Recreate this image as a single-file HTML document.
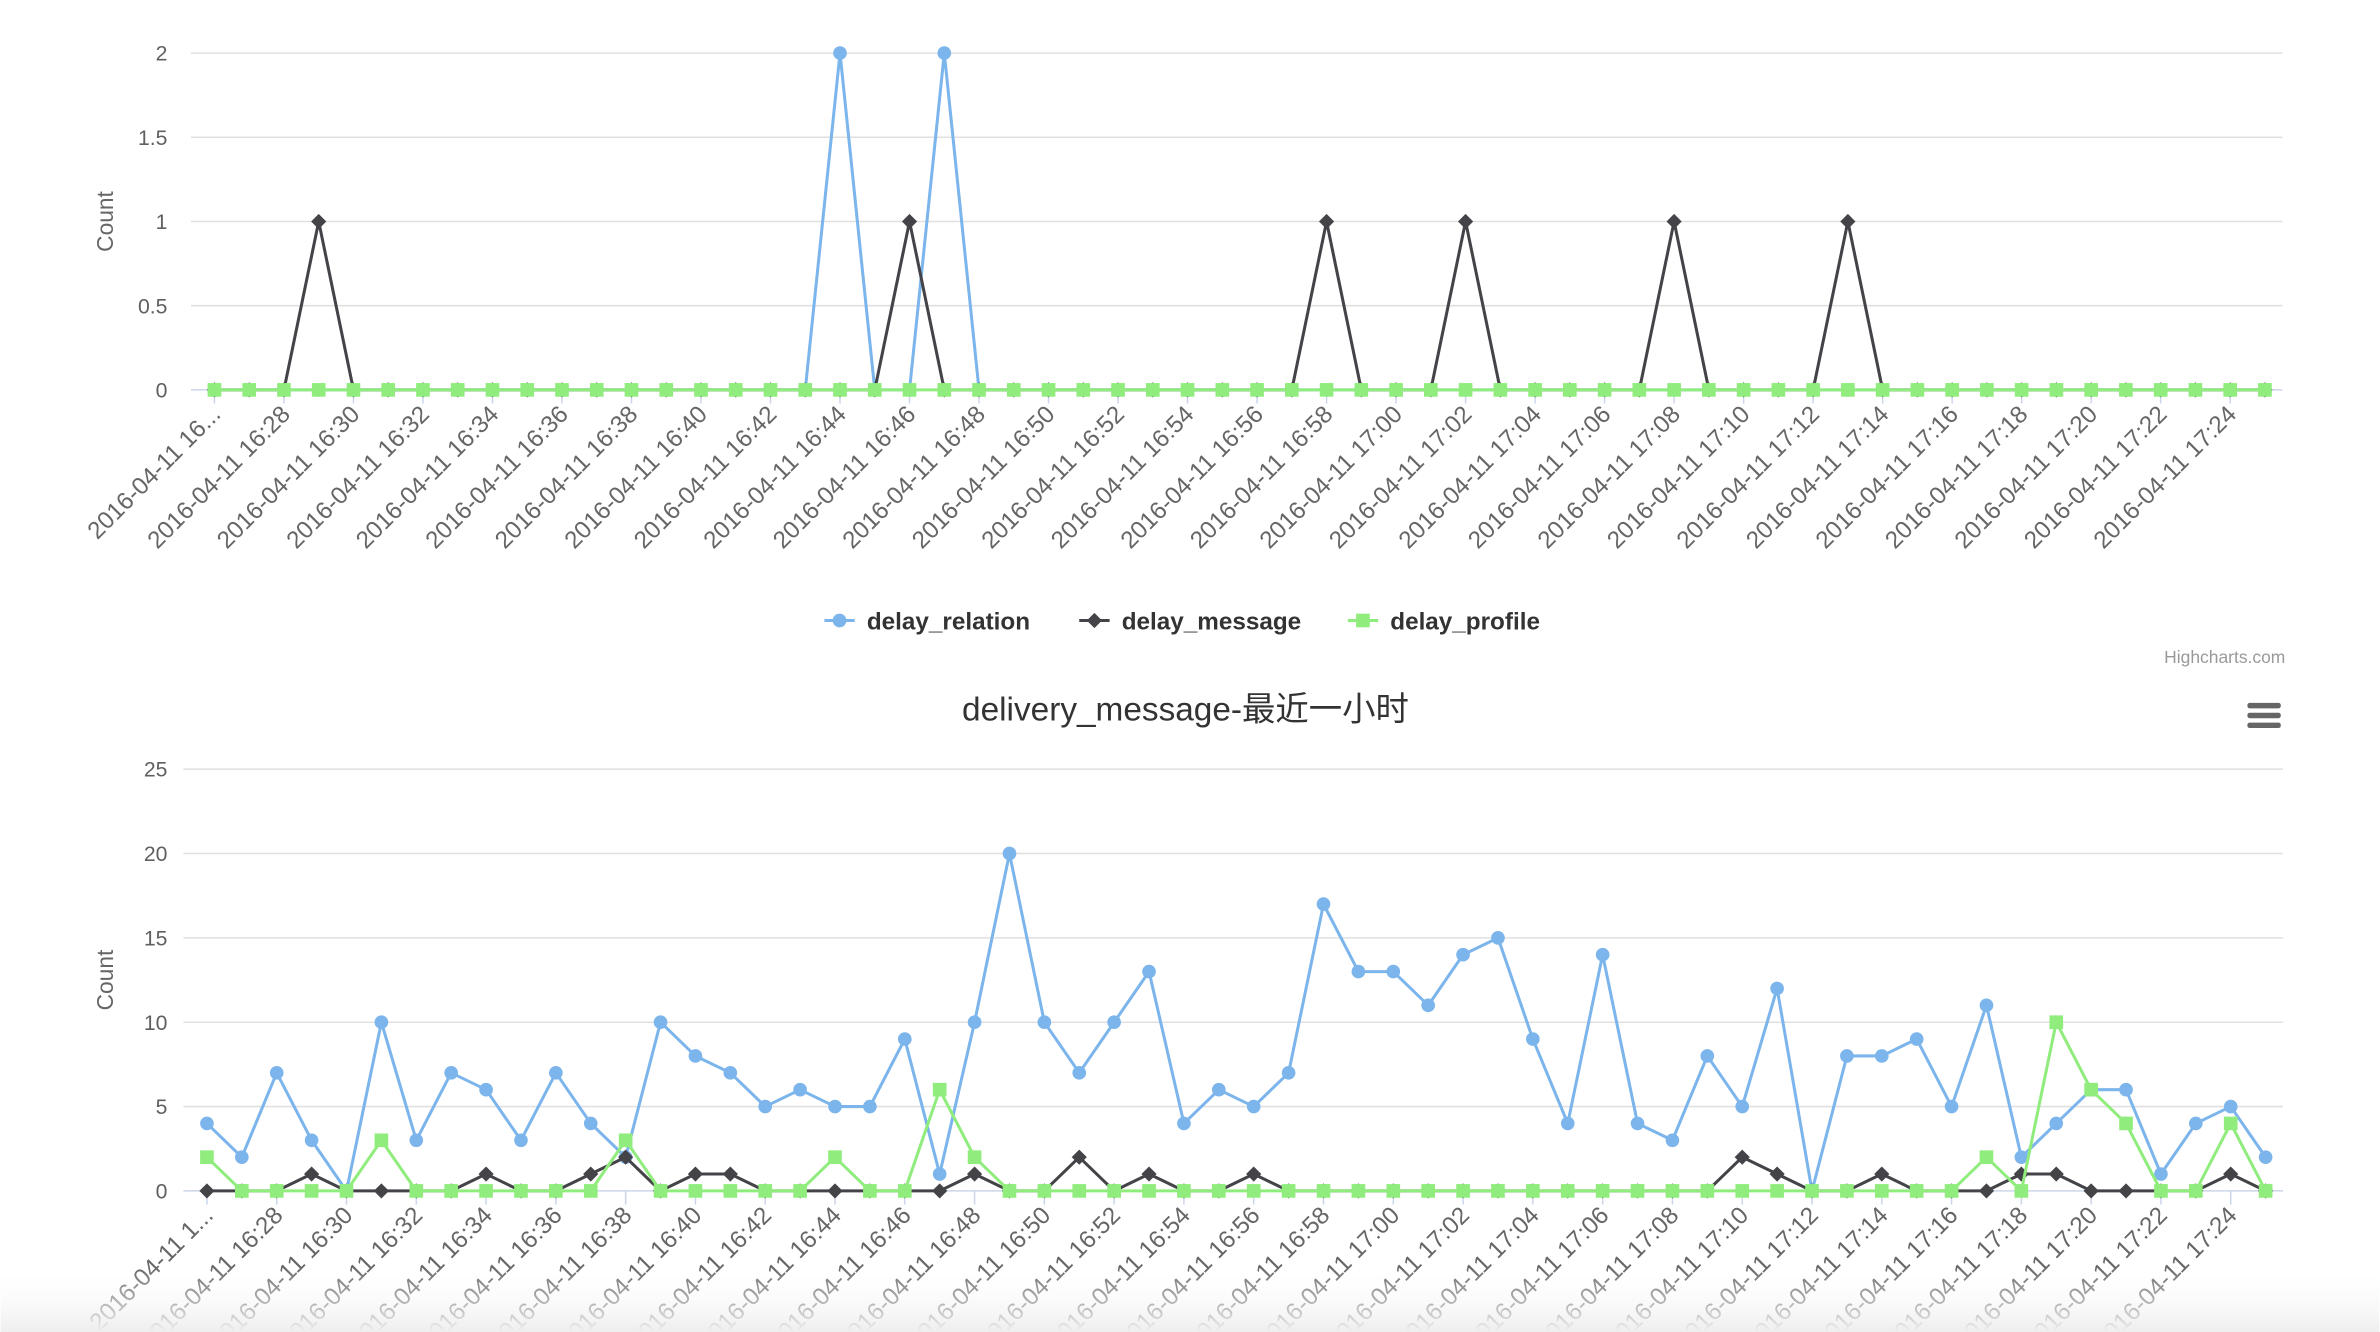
<!DOCTYPE html>
<html><head><meta charset="utf-8"><style>
html,body{margin:0;padding:0;background:#fff;overflow:hidden}
svg{display:block}
text{font-family:"Liberation Sans","Noto Sans CJK SC",sans-serif}
</style></head><body>
<svg id="c" width="2380" height="1332" viewBox="0 0 1568 878" xmlns="http://www.w3.org/2000/svg">
<defs><linearGradient id="fade" x1="0" y1="0" x2="0" y2="1"><stop offset="0" stop-color="#fff" stop-opacity="0"/><stop offset="1" stop-color="#eee" stop-opacity="1"/></linearGradient></defs>
</svg>
<script>
const categories=["16:26","16:27","16:28","16:29","16:30","16:31","16:32","16:33","16:34","16:35","16:36","16:37","16:38","16:39","16:40","16:41","16:42","16:43","16:44","16:45","16:46","16:47","16:48","16:49","16:50","16:51","16:52","16:53","16:54","16:55","16:56","16:57","16:58","16:59","17:00","17:01","17:02","17:03","17:04","17:05","17:06","17:07","17:08","17:09","17:10","17:11","17:12","17:13","17:14","17:15","17:16","17:17","17:18","17:19","17:20","17:21","17:22","17:23","17:24","17:25"];
const topRelation=[0,0,0,0,0,0,0,0,0,0,0,0,0,0,0,0,0,0,2,0,0,2,0,0,0,0,0,0,0,0,0,0,0,0,0,0,0,0,0,0,0,0,0,0,0,0,0,0,0,0,0,0,0,0,0,0,0,0,0,0];
const topMessage=[0,0,0,1,0,0,0,0,0,0,0,0,0,0,0,0,0,0,0,0,1,0,0,0,0,0,0,0,0,0,0,0,1,0,0,0,1,0,0,0,0,0,1,0,0,0,0,1,0,0,0,0,0,0,0,0,0,0,0,0];
const topProfile=[0,0,0,0,0,0,0,0,0,0,0,0,0,0,0,0,0,0,0,0,0,0,0,0,0,0,0,0,0,0,0,0,0,0,0,0,0,0,0,0,0,0,0,0,0,0,0,0,0,0,0,0,0,0,0,0,0,0,0,0];
const topTicks=[0,0.5,1,1.5,2];
const botRelation=[4,2,7,3,0,10,3,7,6,3,7,4,2,10,8,7,5,6,5,5,9,1,10,20,10,7,10,13,4,6,5,7,17,13,13,11,14,15,9,4,14,4,3,8,5,12,0,8,8,9,5,11,2,4,6,6,1,4,5,2];
const botMessage=[0,0,0,1,0,0,0,0,1,0,0,1,2,0,1,1,0,0,0,0,0,0,1,0,0,2,0,1,0,0,1,0,0,0,0,0,0,0,0,0,0,0,0,0,2,1,0,0,1,0,0,0,1,1,0,0,0,0,1,0];
const botProfileData=[2,0,0,0,0,3,0,0,0,0,0,0,3,0,0,0,0,0,2,0,0,6,2,0,0,0,0,0,0,0,0,0,0,0,0,0,0,0,0,0,0,0,0,0,0,0,0,0,0,0,0,2,0,10,6,4,0,0,4,0];
const botTicks=[0,5,10,15,20,25];
</script>
<script>
const NS="http://www.w3.org/2000/svg";
const svg=document.getElementById('c');
function el(t,a,p){const e=document.createElementNS(NS,t);for(const k in a)e.setAttribute(k,a[k]);(p||svg).appendChild(e);return e;}
const COL={rel:"#7cb5ec",msg:"#434348",pro:"#90ed7d"};
function marker(g,type,x,y,c){
  if(type==='rel')return el('circle',{cx:x,cy:y,r:4.5,fill:c},g);
  if(type==='msg')return el('path',{d:`M${x} ${y-5}L${x+5} ${y}L${x} ${y+5}L${x-5} ${y}Z`,fill:c},g);
  return el('rect',{x:x-4.5,y:y-4.5,width:9,height:9,fill:c},g);
}
function chart(name,left,right,top,bottom,maxV,ticks,series,firstLabel){
  const g=el('g',{});
  
  
  const n=categories.length,w=(right-left)/n;
  const X=i=>left+(i+0.5)*w;
  const Y=v=>bottom-(v/maxV)*(bottom-top);
  ticks.forEach(t=>{
    const l=el('line',{x1:left-4,x2:right,y1:Y(t),y2:Y(t),stroke:t===0?"#ccd6eb":"#e0e0e0","stroke-width":1},g);
    
    
    const tx=el('text',{x:110,y:Y(t)+5,"text-anchor":"end","font-size":14,fill:"#606060"},g);
    tx.textContent=String(t);
    
    
  });
  const yt=el('text',{x:0,y:0,transform:`translate(74 ${(top+bottom)/2}) rotate(-90)`,"text-anchor":"middle","font-size":15,fill:"#666"},g);
  yt.textContent="Count";
  
  
  for(let i=0;i<n;i+=2){
    el('line',{x1:X(i),x2:X(i),y1:bottom,y2:bottom+9,stroke:"#ccd6eb"},g);
    const lb=el('text',{x:0,y:0,transform:`translate(${X(i)+5} ${bottom+17}) rotate(-45)`,"text-anchor":"end","font-size":16,fill:"#666"},g);
    lb.textContent=i===0?firstLabel:"2016-04-11 "+categories[i];
    
    
  }
  series.forEach(s=>{
    const sg=el('g',{},g);
    
    
    el('polyline',{points:s.data.map((v,i)=>X(i)+","+Y(v)).join(" "),fill:"none",stroke:COL[s.key],"stroke-width":2,"stroke-linejoin":"round"},sg);
    s.data.forEach((v,i)=>{const m=marker(sg,s.key,X(i),Y(v),COL[s.key]);
      
      });
  });
}
chart('top-chart',129.5,1504,35,257,2,topTicks,[{key:'rel',data:topRelation},{key:'msg',data:topMessage},{key:'pro',data:topProfile}],"2016-04-11 16...");
const lg=el('g',{});


[["rel","delay_relation",553],["msg","delay_message",721],["pro","delay_profile",898]].forEach(([k,t,x])=>{
  const it=el('g',{},lg);
  
  
  el('line',{x1:x-10,x2:x+10,y1:409,y2:409,stroke:COL[k],"stroke-width":2},it);
  marker(it,k,x,409,COL[k]);
  const tx=el('text',{x:x+18,y:415,"font-size":16,"font-weight":"bold",fill:"#333"},it);tx.textContent=t;
});
const cr=el('text',{x:1506,y:437,"text-anchor":"end","font-size":11.5,fill:"#999"});
cr.textContent="Highcharts.com";


const ti=el('text',{x:781,y:475,"text-anchor":"middle","font-size":22,fill:"#333"});
ti.textContent="delivery_message-最近一小时";


const mn=el('g',{});


[465,471.5,478].forEach(y=>el('rect',{x:1481,y:y-1.7,width:22,height:3.6,rx:1.5,fill:"#666"},mn));
chart('bottom-chart',124.5,1504.5,507,785,25,botTicks,[{key:'rel',data:botRelation},{key:'msg',data:botMessage},{key:'pro',data:botProfileData}],"2016-04-11 1...");
const fd=el('rect',{x:0,y:835,width:1568,height:43,fill:"url(#fade)"});


</script>
</body></html>
